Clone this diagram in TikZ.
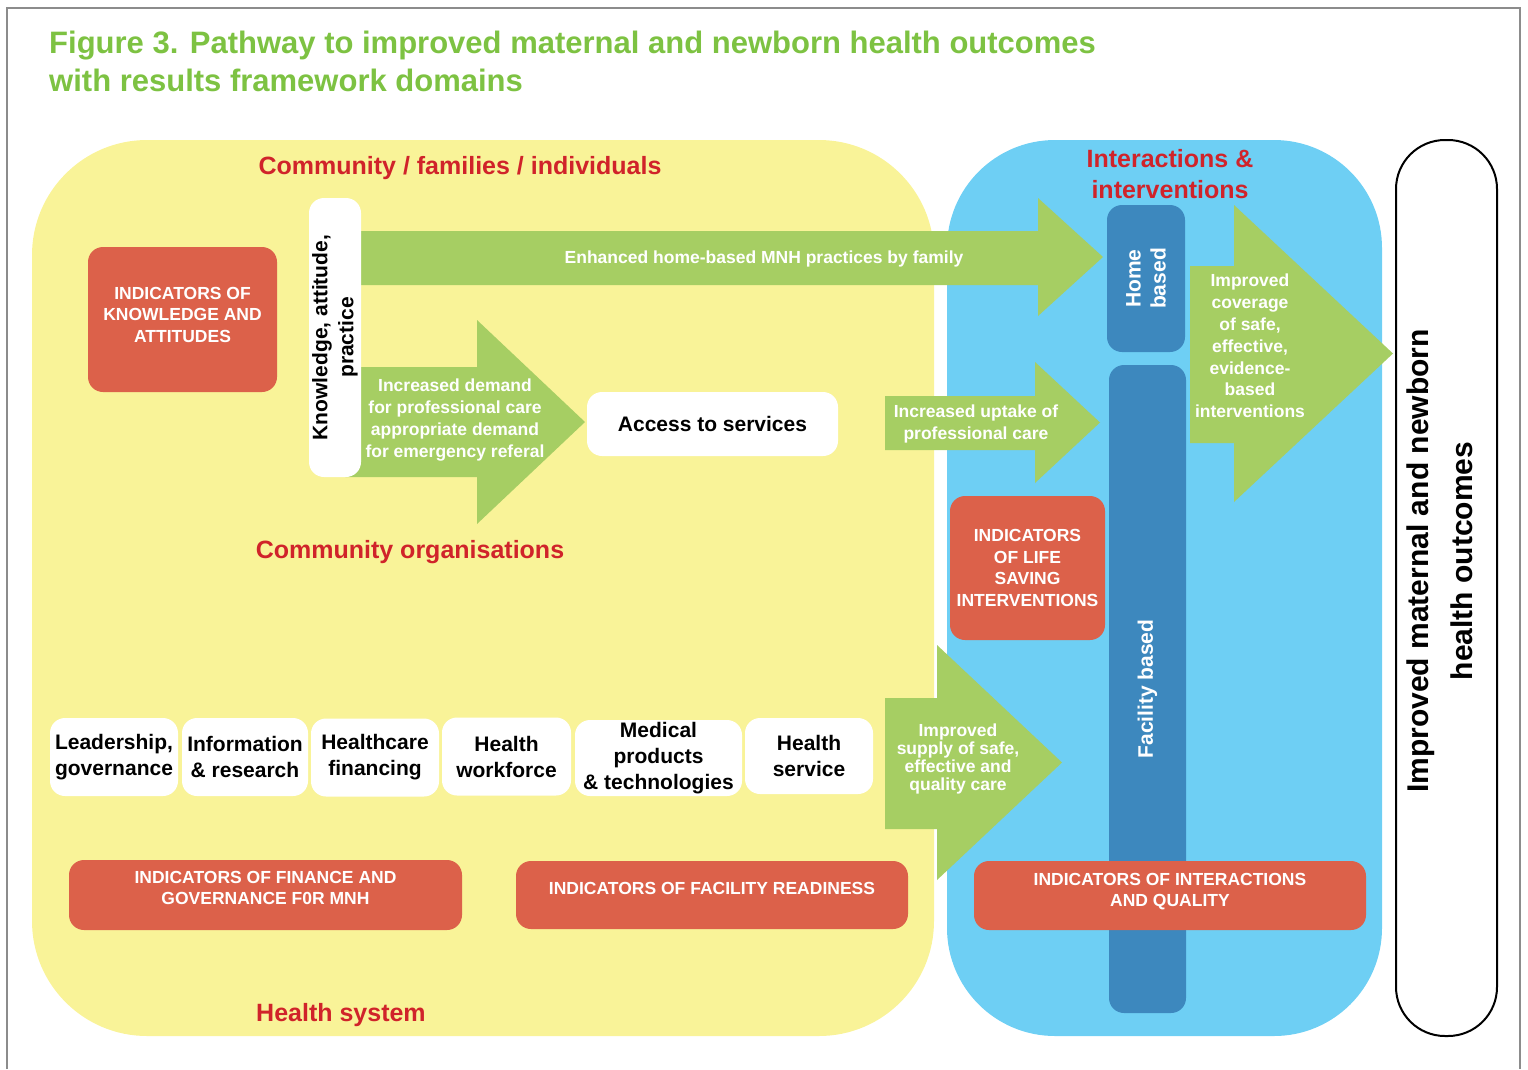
\documentclass[tikz,border=0pt]{standalone}
\usepackage{fontspec}
\setmainfont{Liberation Sans}
\usetikzlibrary{calc}

\definecolor{titlegreen}{RGB}{125,194,66}
\definecolor{headred}{RGB}{208,35,42}
\definecolor{areayellow}{RGB}{249,243,152}
\definecolor{areablue}{RGB}{110,207,244}
\definecolor{barblue}{RGB}{61,136,190}
\definecolor{boxred}{RGB}{220,97,74}
\definecolor{arrowgreen}{RGB}{166,206,99}
\definecolor{framegray}{RGB}{140,140,140}

\newcommand{\fsize}[2]{\fontsize{#1}{#2}\selectfont\bfseries}

\tikzset{
  indicator/.style={fill=boxred, rounded corners=15pt, inner sep=0pt},
  indtext/.style={text=white, align=center, inner sep=0pt, font=\fsize{17.5}{21.5}},
  whitebox/.style={fill=white, rounded corners=15pt, align=center, inner sep=0pt,
    font=\fsize{21}{26}},
  bluebar/.style={fill=barblue, rounded corners=15pt, text=white, align=center,
    inner sep=0pt, rotate=90, font=\fsize{21}{25}},
  heading/.style={text=headred, align=center, inner sep=0pt, font=\fsize{25}{31}},
  arrowtext/.style={text=white, align=center, inner sep=0pt, font=\fsize{17.5}{22}},
}

\begin{document}
\begin{tikzpicture}[x=1pt,y=-1pt]
  \useasboundingbox (0,0) rectangle (1528,1069);

  %% Frame and title
  \draw[framegray, line width=2pt] (7,1069) -- (7,8) -- (1520,8) -- (1520,1069);
  \node[anchor=north west, align=left, text=titlegreen, inner sep=0pt,
    font=\fsize{31}{38}] (title) at (49,31)
    {Figure 3. Pathway to improved maternal and newborn health outcomes\\with results framework domains};

  %% Background areas
  \fill[areayellow, rounded corners=115pt] (32,140) rectangle (934,1036);
  \fill[areablue, rounded corners=108pt] (947,140) rectangle (1382,1036);

  %% Green block arrows: tail / shaft top / shaft bottom / head / head top / head bottom / tip
  \foreach \xa/\ya/\yb/\xh/\yc/\yd/\xt in {361/231/285/1038/198/316/1103,
    345/367/477/477/320/524/585, 885/396/450/1035/362/483/1100,
    1190/266/443/1234/205/502/1393, 885/698/829/937/645/880/1062}
  {
    \fill[arrowgreen] (\xa,\ya) -- (\xh,\ya) -- (\xh,\yc) -- (\xt,{(\yc+\yd)/2})
      -- (\xh,\yd) -- (\xh,\yb) -- (\xa,\yb) -- cycle;
  }

  %% Headings
  \node[heading] (community) at (460,168) {Community / families / individuals};
  \node[heading] (orgs) at (410,552) {Community organisations};
  \node[heading] (hsystem) at (341,1015) {Health system};
  \node[heading] (interact) at (1170,174) {Interactions \&\\interventions};

  %% Community part
  \node[indicator, minimum width=189pt, minimum height=145pt] (kapind) at (182.5,319.5) {};
  \node[indtext] at ([yshift=5pt]kapind.center) {INDICATORS OF\\KNOWLEDGE AND\\ATTITUDES};
  \node[whitebox, rotate=90, minimum width=279pt, minimum height=52pt] (kap) at (335,337.5)
    {Knowledge, attitude,\\practice};
  \node[whitebox, minimum width=251pt, minimum height=64pt] (access) at (712.5,424)
    {Access to services};

  \node[arrowtext] (homepract) at (764,259) {Enhanced home-based MNH practices by family};
  \node[arrowtext] (demand) at (455,420)
    {Increased demand\\for professional care\\appropriate demand\\for emergency referal};
  \node[arrowtext] (uptake) at (976,424) {Increased uptake of\\professional care};
  \node[arrowtext, font=\fsize{17.5}{21.8}] (coverage) at (1250,346)
    {Improved\\coverage\\of safe,\\effective,\\evidence-\\based\\interventions};
  \node[arrowtext, font=\fsize{17.5}{18}] (supply) at (958,759)
    {Improved\\supply of safe,\\effective and\\quality care};

  %% Health system building blocks
  \node[whitebox, minimum width=128pt, minimum height=78pt] (lead) at (114,757) {Leadership,\\governance};
  \node[whitebox, minimum width=126pt, minimum height=78pt] (info) at (245,757) {Information\\\& research};
  \node[whitebox, minimum width=128pt, minimum height=78pt] (finance) at (375,757.5) {Healthcare\\financing};
  \node[whitebox, minimum width=129pt, minimum height=78pt] (workforce) at (506.5,756.5) {Health\\workforce};
  \node[whitebox, minimum width=167pt, minimum height=76pt] (medical) at (658.5,758) {Medical\\products\\\& technologies};
  \node[whitebox, minimum width=128pt, minimum height=76pt] (service) at (809,756) {Health\\service};

  \node[indicator, minimum width=393pt, minimum height=70pt] (finind) at (265.5,895) {};
  \node[indtext] at ([yshift=7pt]finind.center) {INDICATORS OF FINANCE AND\\GOVERNANCE F0R MNH};
  \node[indicator, minimum width=392pt, minimum height=68pt] (readyind) at (712,895) {};
  \node[indtext] at ([yshift=7pt]readyind.center) {INDICATORS OF FACILITY READINESS};

  %% Interactions part
  \node[bluebar, minimum width=147pt, minimum height=78pt] (home) at (1146,278.5) {Home\\based};
  \node[bluebar, minimum width=648pt, minimum height=77pt] (facility) at (1147.5,689) {Facility based};
  \node[indicator, minimum width=155pt, minimum height=144pt] (lsiind) at (1027.5,568) {};
  \node[indtext] at (lsiind.center) {INDICATORS\\OF LIFE\\SAVING\\INTERVENTIONS};
  \node[indicator, minimum width=392pt, minimum height=69pt] (qualind) at (1170,895.5) {};
  \node[indtext] at ([yshift=4pt]qualind.center) {INDICATORS OF INTERACTIONS\\AND QUALITY};

  %% Outcomes
  \node[draw=black, line width=2pt, fill=white, rounded corners=49pt, inner sep=0pt,
    minimum width=101pt, minimum height=896pt] (outcomes) at (1446.5,588) {};
  \node[rotate=90, align=center, inner sep=0pt, font=\fsize{30}{44}] (outtext) at (1440,561)
    {Improved maternal and newborn\\health outcomes};
\end{tikzpicture}
\end{document}
